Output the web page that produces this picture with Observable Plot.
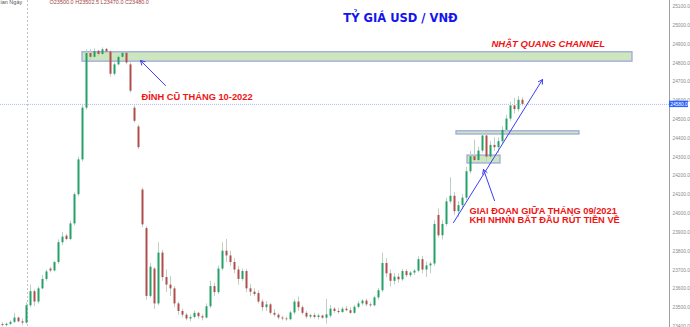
<!DOCTYPE html>
<html>
<head>
<meta charset="utf-8">
<script src="https://cdn.jsdelivr.net/npm/d3@7"></script>
<script src="https://cdn.jsdelivr.net/npm/@observablehq/plot@0.6"></script>
<style>
  html, body { margin: 0; padding: 0; background: #fff; }
  #chart svg { display: block; }
</style>
</head>
<body>
<div id="chart"></div>
<script>
// ---- Candle data (daily USD/VND) ----
const open = [23410,23405,23412,23422,23445,23425,23418,23510,23585,23530,23600,23650,23705,23695,23740,23845,23880,23862,23945,24100,24285,24560,24850,24830,24862,24845,24872,24858,24740,24790,24830,24852,24790,24560,24460,24125,23920,23560,23705,23520,23790,23660,23620,23600,23520,23480,23460,23440,23448,23470,23452,23445,23505,23612,23580,23705,23800,23775,23740,23700,23650,23692,23600,23582,23575,23530,23500,23515,23470,23460,23445,23440,23436,23472,23530,23500,23470,23450,23458,23448,23456,23444,23455,23492,23480,23474,23492,23484,23470,23502,23520,23535,23515,23510,23552,23590,23735,23680,23640,23662,23648,23692,23670,23684,23694,23755,23700,23722,23732,23990,23882,23942,24062,24092,24010,24042,24082,24222,24302,24282,24332,24412,24300,24362,24350,24382,24442,24502,24572,24552,24602];
const high = [23420,23418,23430,23470,23450,23440,23525,23620,23595,23610,23670,23700,23715,23745,23860,23900,23890,23960,24110,24300,24580,24870,24872,24875,24868,24880,24878,24865,24800,24840,24862,24858,24800,24572,24470,24135,23930,23735,23712,23845,23805,23700,23665,23612,23530,23492,23470,23462,23482,23476,23462,23520,23640,23630,23722,23845,23862,23800,23760,23720,23705,23702,23622,23600,23590,23542,23532,23522,23490,23470,23455,23450,23480,23542,23556,23510,23480,23466,23470,23465,23460,23545,23512,23500,23496,23502,23506,23500,23512,23532,23542,23546,23526,23562,23602,23790,23760,23700,23682,23680,23702,23702,23692,23702,23770,23772,23742,23742,23962,24025,23962,24082,24190,24112,24062,24102,24245,24330,24390,24352,24442,24432,24382,24402,24402,24462,24522,24592,24612,24622,24616];
const low = [23398,23398,23405,23415,23420,23405,23412,23500,23505,23520,23595,23640,23685,23690,23730,23830,23855,23855,23935,24090,24275,24550,24815,24825,24835,24840,24850,24725,24730,24785,24825,24790,24640,24480,24340,23925,23540,23550,23490,23510,23640,23580,23560,23500,23460,23445,23430,23425,23440,23440,23430,23440,23495,23560,23570,23695,23740,23720,23680,23620,23640,23580,23560,23560,23520,23480,23480,23460,23450,23435,23430,23428,23430,23462,23480,23460,23440,23440,23440,23435,23438,23412,23445,23470,23465,23470,23478,23465,23465,23495,23510,23505,23500,23505,23540,23580,23660,23610,23620,23630,23640,23660,23660,23670,23685,23680,23660,23680,23720,23870,23860,23930,24050,23990,23980,24020,24070,24210,24262,24270,24320,24262,24290,24330,24320,24370,24430,24490,24530,24540,24570];
const close = [23405,23412,23422,23445,23425,23418,23510,23585,23530,23600,23650,23690,23695,23740,23845,23875,23862,23945,24100,24285,24560,24850,24830,24860,24845,24870,24858,24740,24790,24830,24852,24800,24650,24490,24350,23940,23560,23715,23520,23790,23660,23620,23600,23520,23480,23460,23440,23448,23470,23452,23445,23505,23612,23580,23705,23800,23775,23740,23700,23650,23692,23600,23582,23570,23530,23500,23515,23470,23460,23445,23440,23436,23472,23530,23500,23470,23450,23458,23448,23456,23444,23462,23492,23480,23474,23492,23484,23470,23502,23520,23535,23515,23510,23552,23590,23735,23680,23640,23662,23648,23692,23670,23684,23694,23755,23700,23722,23732,23942,23882,23942,24062,24092,24010,24042,24082,24222,24302,24282,24332,24412,24300,24362,24350,24382,24442,24502,24572,24552,24602,24580];

// ---- Axis ----
const yTicks = [23400,23500,23600,23700,23800,23900,24000,24100,24200,24300,24400,24500,24600,24700,24800,24900,25000,25100];
const lastPrice = [24580];

// ---- Annotations (candle index, price) ----
const zoneX1 = [20, 113.5, 116.25];
const zoneX2 = [157.5, 144.25, 124.5];
const zoneLo = [24807, 24420, 24266];
const zoneHi = [24857, 24437, 24308];

const arrowX1 = [40.75, 112.75, 123];
const arrowY1 = [24680, 23952, 24069];
const arrowX2 = [34.5, 135, 120.25];
const arrowY2 = [24813, 24712, 24234];

const noteText = ["ĐỈNH CŨ THÁNG 10-2022", "GIAI ĐOẠN GIỮA THÁNG 09/2021\nKHI NHNN BẮT ĐẦU RÚT TIỀN VỀ"];
const noteX = [34.75, 116.75];
const noteY = [24622, 23990];

const titleText = ["TỶ GIÁ USD / VNĐ"];
const titleX = [99.5];
const titleY = [25036];
const brandText = ["NHẬT QUANG CHANNEL"];
const brandX = [122.25];
const brandY = [24903];

const legendText = ["ian Ngày", "O23500.0 H23502.5 L23470.0 C23480.0"];
const legendX = [-0.5, 11.75];
const legendY = [25125, 25125];

const crossX = [6.25];

// ---- Build tables ----
const candles = open.map((o, i) => ({i, o, h: high[i], l: low[i], c: close[i]}));
const zones = zoneX1.map((x1, k) => ({x1, x2: zoneX2[k], y1: zoneLo[k], y2: zoneHi[k]}));
const arrows = arrowX1.map((x1, k) => ({x1, y1: arrowY1[k], x2: arrowX2[k], y2: arrowY2[k]}));
const notes = noteText.map((t, k) => ({t, x: noteX[k], y: noteY[k]}));
const legends = legendText.map((t, k) => ({t, x: legendX[k], y: legendY[k]}));

const GREEN = "#22a067", RED = "#b24d4d";

const chart = Plot.plot({
  width: 690,
  height: 327,
  marginLeft: 0,
  marginRight: 21,
  marginTop: 0,
  marginBottom: 0,
  style: {background: "#fff", fontFamily: "Liberation Sans, Arial, sans-serif", color: "#8a8a8a"},
  x: {domain: [-0.5, 166.75], axis: null},
  y: {domain: [23394.7, 25131.9], axis: null},
  marks: [
    Plot.ruleX(crossX, {stroke: "#c4c4c4", strokeDasharray: "2,2", strokeWidth: 1}),
    Plot.ruleY(lastPrice, {stroke: "#aeb8f3", strokeDasharray: "1,1", strokeWidth: 1}),
    Plot.rect(zones, {x1: "x1", x2: "x2", y1: "y1", y2: "y2", fill: "#cde6bd", stroke: "#9ea9dc", strokeWidth: 1.3}),
    Plot.ruleX(candles, {x: "i", y1: "l", y2: "h", stroke: "#bdd0c4", strokeWidth: 1}),
    Plot.ruleX(candles, {x: "i", y1: "o", y2: "c", stroke: d => d.c >= d.o ? GREEN : RED, strokeWidth: 2}),
    Plot.arrow(arrows, {x1: "x1", y1: "y1", x2: "x2", y2: "y2", stroke: "#3b3bf5", strokeWidth: 1, headLength: 7}),
    Plot.text(notes, {x: "x", y: "y", text: "t", textAnchor: "start", lineAnchor: "middle", lineHeight: 1.02,
      fill: "#f01414", fontWeight: "bold", fontSize: 9.3, fontFamily: "Liberation Sans"}),
    Plot.text(titleText, {x: () => titleX[0], y: () => titleY[0], text: d => d, textAnchor: "middle",
      fill: "#1414f0", fontWeight: "bold", fontSize: 11.5, fontFamily: "DejaVu Sans"}),
    Plot.text(brandText, {x: () => brandX[0], y: () => brandY[0], text: d => d, textAnchor: "start",
      fill: "#f01414", fontWeight: "bold", fontStyle: "italic", fontSize: 9.5, fontFamily: "Liberation Sans"}),
    Plot.text(legends, {x: "x", y: "y", text: "t", textAnchor: "start", fill: (d, k) => k === 0 ? "#555" : "#a04646",
      fontSize: 5.5, fontFamily: "Liberation Sans"}),
    Plot.axisY(yTicks, {anchor: "right", tickFormat: d => d.toFixed(1), tickSize: 0, tickPadding: 3,
      fontSize: 4.8, fill: "#8a8a8a", label: null}),
    Plot.ruleX([166.75], {stroke: "#a0a0a0", strokeWidth: 1}),
    Plot.rect(lastPrice, {x1: () => 166.75, x2: () => 171.5, y1: d => d - 17, y2: d => d + 17, fill: "#2962ff"}),
    Plot.text(lastPrice, {x: () => 169.1, y: d => d, text: d => d.toFixed(1), fill: "#fff", fontSize: 4.8, textAnchor: "middle"})
  ]
});
document.getElementById("chart").appendChild(chart);
</script>
</body>
</html>
